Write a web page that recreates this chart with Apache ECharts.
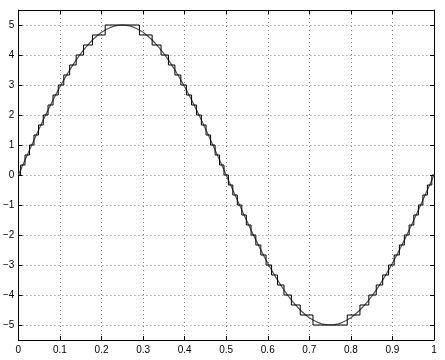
<!DOCTYPE html>
<html>
<head>
<meta charset="utf-8">
<style>
html,body{margin:0;padding:0;background:#fff;}
#chart{width:445px;height:360px;}
</style>
<script src="https://cdn.jsdelivr.net/npm/echarts@6/dist/echarts.min.js"></script>
</head>
<body>
<div id="chart"></div>
<script>
// Smooth signal: x positions and values
var sineX = [0,0.01,0.02,0.03,0.04,0.05,0.06,0.07,0.08,0.09,
  0.10,0.11,0.12,0.13,0.14,0.15,0.16,0.17,0.18,0.19,
  0.20,0.21,0.22,0.23,0.24,0.25,0.26,0.27,0.28,0.29,
  0.30,0.31,0.32,0.33,0.34,0.35,0.36,0.37,0.38,0.39,
  0.40,0.41,0.42,0.43,0.44,0.45,0.46,0.47,0.48,0.49,
  0.50,0.51,0.52,0.53,0.54,0.55,0.56,0.57,0.58,0.59,
  0.60,0.61,0.62,0.63,0.64,0.65,0.66,0.67,0.68,0.69,
  0.70,0.71,0.72,0.73,0.74,0.75,0.76,0.77,0.78,0.79,
  0.80,0.81,0.82,0.83,0.84,0.85,0.86,0.87,0.88,0.89,
  0.90,0.91,0.92,0.93,0.94,0.95,0.96,0.97,0.98,0.99,1.00];
var sineY = [0,0.314,0.627,0.937,1.243,1.545,1.841,2.129,2.409,2.679,
  2.939,3.187,3.423,3.645,3.853,4.045,4.222,4.382,4.524,4.649,
  4.755,4.843,4.911,4.961,4.990,5,4.990,4.961,4.911,4.843,
  4.755,4.649,4.524,4.382,4.222,4.045,3.853,3.645,3.423,3.187,
  2.939,2.679,2.409,2.129,1.841,1.545,1.243,0.937,0.627,0.314,
  0,-0.314,-0.627,-0.937,-1.243,-1.545,-1.841,-2.129,-2.409,-2.679,
  -2.939,-3.187,-3.423,-3.645,-3.853,-4.045,-4.222,-4.382,-4.524,-4.649,
  -4.755,-4.843,-4.911,-4.961,-4.990,-5,-4.990,-4.961,-4.911,-4.843,
  -4.755,-4.649,-4.524,-4.382,-4.222,-4.045,-3.853,-3.645,-3.423,-3.187,
  -2.939,-2.679,-2.409,-2.129,-1.841,-1.545,-1.243,-0.937,-0.627,-0.314,0];

// Quantized signal: start of each flat step and its level
var stairX = [0,0.0053,0.0159,0.0267,0.0375,0.0485,0.0598,0.0713,0.0833,0.0959,
  0.1092,0.1234,0.1390,0.1568,0.1782,0.2088,
  0.2912,0.3218,0.3432,0.3610,0.3766,0.3908,0.4041,0.4167,0.4287,0.4402,
  0.4515,0.4625,0.4733,0.4841,0.4947,
  0.5053,0.5159,0.5267,0.5375,0.5485,0.5598,0.5713,0.5833,0.5959,0.6092,
  0.6234,0.6390,0.6568,0.6782,0.7088,
  0.7912,0.8218,0.8432,0.8610,0.8766,0.8908,0.9041,0.9167,0.9287,0.9402,
  0.9515,0.9625,0.9733,0.9841,0.9947,1];
var stairY = [0,0.3333,0.6667,1,1.3333,1.6667,2,2.3333,2.6667,3,
  3.3333,3.6667,4,4.3333,4.6667,5,
  4.6667,4.3333,4,3.6667,3.3333,3,2.6667,2.3333,2,1.6667,
  1.3333,1,0.6667,0.3333,0,
  -0.3333,-0.6667,-1,-1.3333,-1.6667,-2,-2.3333,-2.6667,-3,-3.3333,
  -3.6667,-4,-4.3333,-4.6667,-5,
  -4.6667,-4.3333,-4,-3.6667,-3.3333,-3,-2.6667,-2.3333,-2,-1.6667,
  -1.3333,-1,-0.6667,-0.3333,0,0];

var xMin = 0, xMax = 1, yMin = -5.5, yMax = 5.5;

function zip(a, b) { return a.map(function (v, i) { return [v, b[i]]; }); }

var font = { fontFamily: 'Liberation Sans', fontSize: 10, color: '#000' };
var gridStyle = { show: true, lineStyle: { color: '#777', width: 1, type: [1, 3] } };
var lineStyle = { show: true, onZero: false, lineStyle: { color: '#000', width: 1 } };
var tickStyle = { show: true, inside: true, length: 4, lineStyle: { color: '#000', width: 1 } };

var chart = echarts.init(document.getElementById('chart'), null, { renderer: 'canvas' });
chart.setOption({
  animation: false,
  backgroundColor: '#fff',
  grid: { left: 17, right: 11, top: 10, bottom: 20, containLabel: false },
  xAxis: [
    { type: 'value', min: xMin, max: xMax, splitNumber: 10, position: 'bottom',
      axisLine: lineStyle, axisTick: tickStyle, splitLine: gridStyle,
      axisLabel: Object.assign({ margin: 5 }, font) },
    { type: 'value', min: xMin, max: xMax, splitNumber: 10, position: 'top',
      axisLine: lineStyle, axisTick: tickStyle, splitLine: { show: false },
      axisLabel: { show: false } }
  ],
  yAxis: [
    { type: 'value', min: yMin, max: yMax, splitNumber: 11, position: 'left',
      axisLine: lineStyle, axisTick: tickStyle, splitLine: gridStyle,
      axisLabel: Object.assign({ margin: 4, showMinLabel: false, showMaxLabel: false,
        formatter: function (v) { return String(v).replace('-', '\u2212'); } }, font) },
    { type: 'value', min: yMin, max: yMax, splitNumber: 11, position: 'right',
      axisLine: lineStyle, axisTick: tickStyle, splitLine: { show: false },
      axisLabel: { show: false } }
  ],
  series: [
    { type: 'line', data: zip(sineX, sineY), showSymbol: false, symbol: 'none',
      lineStyle: { color: '#555', width: 1.2 }, z: 2 },
    { type: 'line', data: zip(stairX, stairY), step: 'end', showSymbol: false, symbol: 'none',
      lineStyle: { color: '#000', width: 1 }, z: 3 }
  ]
});
</script>
</body>
</html>
